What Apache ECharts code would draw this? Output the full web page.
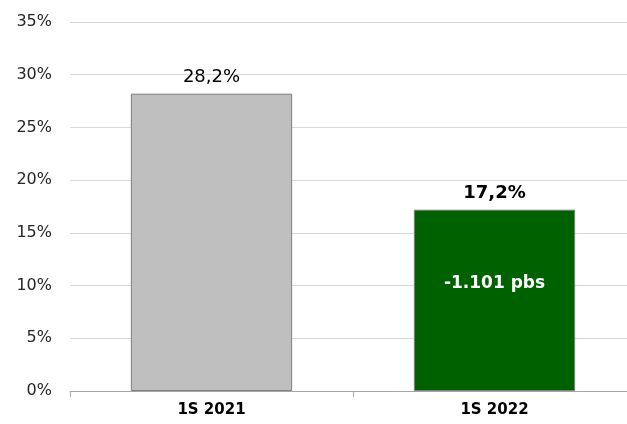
<!DOCTYPE html>
<html><head><meta charset="utf-8">
<script src="https://cdn.jsdelivr.net/npm/echarts@6/dist/echarts.min.js"></script>
<style>html,body{margin:0;padding:0;background:#fff;overflow:hidden}#c{width:636px;height:424px}</style>
</head><body><div id="c"></div>
<script>
const categories = ['1S 2021', '1S 2022'];
const values = [28.2, 17.2];
const innerLabels = ['', '-1.101 pbs'];
const yTicks = [0, 5, 10, 15, 20, 25, 30, 35];

const FONT = 'DejaVu Sans';
const chart = echarts.init(document.getElementById('c'));
chart.setOption({
  animation: false,
  textStyle: {fontFamily: FONT},
  grid: {left: 70, top: 22, right: 0, bottom: 33},
  xAxis: {
    type: 'category', data: categories,
    axisLine: {lineStyle: {color: '#A6A6A6'}},
    axisTick: {show: true, length: 6, lineStyle: {color: '#A6A6A6'}},
    axisLabel: {color: '#000', fontWeight: 'bold', fontSize: 15, margin: 12, fontFamily: FONT}
  },
  yAxis: {
    type: 'value', min: yTicks[0], max: yTicks[yTicks.length - 1], interval: 5,
    axisLine: {show: false}, axisTick: {show: false},
    splitLine: {lineStyle: {color: '#D9D9D9'}},
    axisLabel: {formatter: v => v + '%', color: '#262626', fontSize: 16, margin: 18, fontFamily: FONT}
  },
  series: [{
    type: 'bar', barWidth: '57%',
    data: values.map((v, i) => ({
      value: v,
      itemStyle: {color: i === 0 ? '#BFBFBF' : '#006100', borderColor: '#7F7F7F', borderWidth: 1},
      label: {fontWeight: i === 0 ? 'normal' : 'bold'}
    })),
    label: {show: true, position: 'top', distance: 7, color: '#000', fontSize: 18, fontFamily: FONT,
      formatter: p => p.value.toFixed(1).replace('.', ',') + '%'}
  }, {
    type: 'bar', barWidth: '57%', barGap: '-100%', silent: true,
    data: values.map((v, i) => ({value: v, itemStyle: {color: 'rgba(0,0,0,0)'}})),
    label: {show: true, position: 'inside', offset: [0, -17], color: '#fff', fontWeight: 'bold', fontSize: 17, fontFamily: FONT,
      formatter: p => innerLabels[p.dataIndex]}
  }]
});
</script></body></html>
